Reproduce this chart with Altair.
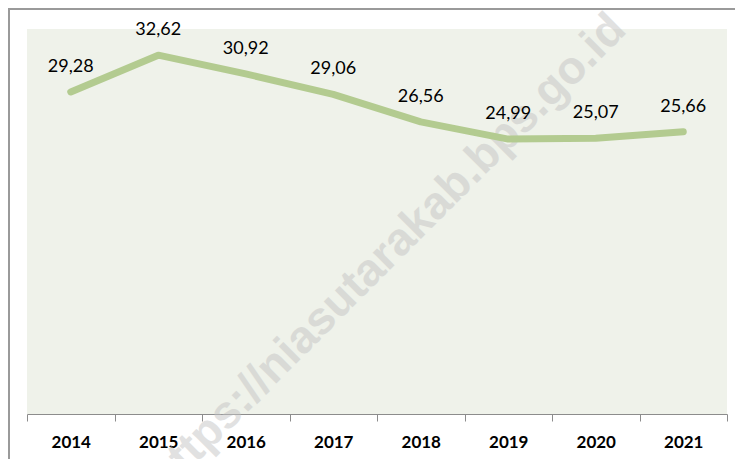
import altair as alt
import pandas as pd

years = ["2014", "2015", "2016", "2017", "2018", "2019", "2020", "2021"]
values = [29.28, 32.62, 30.92, 29.06, 26.56, 24.99, 25.07, 25.66]
labels = ["29,28", "32,62", "30,92", "29,06", "26,56", "24,99", "25,07", "25,66"]
watermark = ["https://niasutarakab.bps.go.id"]

df = pd.DataFrame({"year": years, "value": values, "label": labels})

x = alt.X(
    "year:O",
    scale=alt.Scale(type="band", paddingInner=0, paddingOuter=0),
    axis=alt.Axis(
        title=None, labelAngle=0, tickBand="extent", tickSize=7,
        tickColor="#8c8c8c", domainColor="#8c8c8c", tickWidth=1, domainWidth=1,
        labelFont="Lato", labelFontWeight="bold", labelFontSize=17,
        labelColor="#000000", labelPadding=13, grid=False,
    ),
)
y = alt.Y("value:Q", scale=alt.Scale(domain=[0, 35], nice=False, zero=True), axis=None)

base = alt.Chart(df)

wm = alt.Chart(pd.DataFrame({"t": watermark})).mark_text(
    angle=315, font="Liberation Sans", fontWeight="bold", fontSize=46,
    color="#c4c4c4", opacity=0.5, align="center", baseline="middle",
).encode(text="t:N", x=alt.value(360), y=alt.value(224))

line = base.mark_line(
    color="#b3cb90", strokeWidth=7, strokeCap="round", strokeJoin="round"
).encode(x=x, y=y)

text = base.mark_text(
    font="Lato", fontSize=18, color="#000000", dy=-25, baseline="middle"
).encode(x=x, y=y, text="label:N")

frame = pd.DataFrame({"k": [0]})
top_rule = alt.Chart(frame).mark_rule(color="#9a9a9a", strokeWidth=2).encode(
    x=alt.value(-19), x2=alt.value(720), y=alt.value(-20)
)
left_rule = alt.Chart(frame).mark_rule(color="#9a9a9a", strokeWidth=2).encode(
    x=alt.value(-18), y=alt.value(-21), y2=alt.value(470)
)

chart = alt.layer(wm, line, text, top_rule, left_rule).properties(
    width=700, height=385,
    autosize=alt.AutoSizeParams(type="none"),
    padding={"left": 19, "top": 21, "right": 8, "bottom": 45},
    background="white",
).configure_view(fill="#eff2ea", stroke=None)

chart.save("out.html", embed_options={"renderer": "svg", "actions": False})
